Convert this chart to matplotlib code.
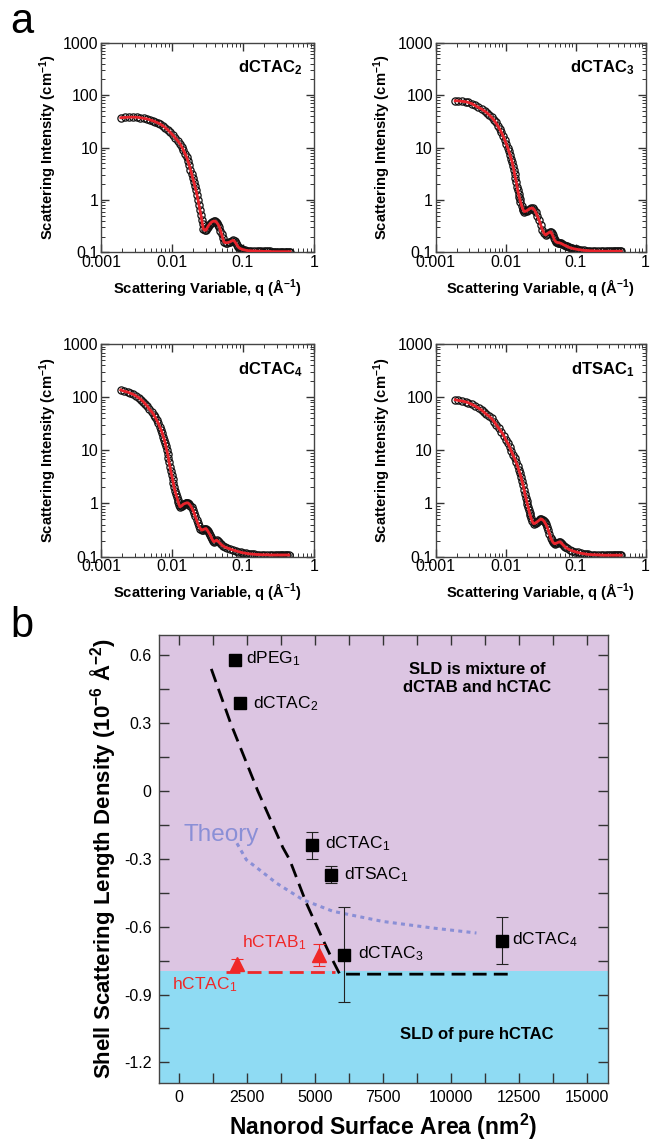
import numpy as np
import matplotlib
matplotlib.use('Agg')
import matplotlib.pyplot as plt
from matplotlib.ticker import LogLocator, NullFormatter, MultipleLocator, FixedLocator, FixedFormatter

plt.rcParams['font.family'] = ['Liberation Sans', 'DejaVu Sans']
plt.rcParams['mathtext.fontset'] = 'custom'
plt.rcParams['mathtext.rm'] = 'Liberation Sans'
plt.rcParams['mathtext.bf'] = 'Liberation Sans:bold'
plt.rcParams['mathtext.it'] = 'Liberation Sans:italic'
plt.rcParams['axes.unicode_minus'] = False

# ---------------- Panel a data (SANS curves) ----------------
q_dctac2 = [0.0019, 0.0022, 0.0025, 0.0028, 0.0032, 0.0036, 0.0040, 0.0045, 0.0049, 0.0054,
            0.0058, 0.0063, 0.0068, 0.0074, 0.0080, 0.0087, 0.0094, 0.0102, 0.0110, 0.0120,
            0.0130, 0.0138, 0.0145, 0.0153, 0.0161, 0.0168, 0.0175, 0.0182, 0.0189, 0.0196,
            0.0203, 0.0210, 0.0218, 0.0225, 0.0233, 0.0240, 0.0248, 0.0255, 0.0262, 0.0269,
            0.0276, 0.0288, 0.0301, 0.0310, 0.0320, 0.0331, 0.0343, 0.0356, 0.0370, 0.0386,
            0.0403, 0.0418, 0.0433, 0.0449, 0.0465, 0.0482, 0.0500, 0.0520, 0.0540, 0.0570,
            0.0600, 0.0628, 0.0656, 0.0690, 0.0730, 0.0760, 0.0790, 0.0825, 0.0860, 0.0895,
            0.0930, 0.097, 0.101, 0.108, 0.115, 0.122, 0.130, 0.142, 0.155, 0.167,
            0.18, 0.195, 0.21, 0.225, 0.24, 0.255, 0.27, 0.285, 0.30, 0.32,
            0.34, 0.36, 0.38, 0.40, 0.42, 0.44, 0.46]
I_dctac2 = [37, 37.5, 38, 38, 37.8, 37, 36, 35, 33.6, 32.3,
            31, 29.6, 28.2, 26, 24, 21.8, 19.6, 17.5, 15.5, 13.5,
            11.7, 10.2, 8.8, 7.6, 6.5, 5.5, 4.6, 3.8, 3.15, 2.6,
            2.2, 1.85, 1.52, 1.25, 1.0, 0.8, 0.63, 0.52, 0.42, 0.34,
            0.28, 0.265, 0.263, 0.285, 0.31, 0.33, 0.35, 0.37, 0.385, 0.393,
            0.395, 0.38, 0.36, 0.335, 0.304, 0.26, 0.22, 0.185, 0.157, 0.152,
            0.152, 0.155, 0.158, 0.165, 0.17, 0.162, 0.15, 0.136, 0.126, 0.12,
            0.117, 0.114, 0.112, 0.11, 0.108, 0.107, 0.107, 0.106, 0.106, 0.105,
            0.105, 0.104, 0.104, 0.104, 0.104, 0.103, 0.103, 0.103, 0.103, 0.103,
            0.103, 0.103, 0.103, 0.103, 0.103, 0.103, 0.103]

q_dctac3 = [0.0019, 0.0021, 0.0024, 0.0027, 0.0029, 0.0033, 0.0036, 0.0040, 0.00454, 0.0050,
            0.0054, 0.0058, 0.0063, 0.0068, 0.0072, 0.0077, 0.0082, 0.0087, 0.0092, 0.0097,
            0.0102, 0.0107, 0.0111, 0.0116, 0.0120, 0.0124, 0.0127, 0.0131, 0.0134, 0.0138,
            0.0142, 0.0146, 0.0149, 0.0153, 0.0156, 0.0160, 0.0163, 0.0169, 0.0175, 0.0180,
            0.0185, 0.0192, 0.0200, 0.0210, 0.0220, 0.0232, 0.0243, 0.0256, 0.0270, 0.0285,
            0.0301, 0.0318, 0.0335, 0.0354, 0.0374, 0.0392, 0.0410, 0.0425, 0.044, 0.0455,
            0.047, 0.0485, 0.050, 0.052, 0.054, 0.056, 0.0575, 0.060, 0.062, 0.065,
            0.068, 0.072, 0.0755, 0.080, 0.085, 0.090, 0.0945, 0.100, 0.1045, 0.112,
            0.12, 0.13, 0.14, 0.15, 0.161, 0.175, 0.19, 0.21, 0.23, 0.25,
            0.27, 0.29, 0.31, 0.33, 0.35, 0.37, 0.39, 0.41, 0.43, 0.45]
I_dctac3 = [78, 77.5, 76, 74.5, 72.6, 68.5, 64, 59, 54, 49.5,
            46, 42, 37.7, 33.5, 30, 26, 22.6, 19.4, 16.5, 14,
            11.7, 10, 8.5, 7.2, 6.1, 5.3, 4.5, 3.8, 3.16, 2.65,
            2.2, 1.8, 1.53, 1.3, 1.15, 1.02, 0.92, 0.78, 0.68, 0.63,
            0.60, 0.605, 0.62, 0.65, 0.68, 0.695, 0.70, 0.65, 0.58, 0.49,
            0.41, 0.33, 0.27, 0.23, 0.213, 0.225, 0.235, 0.243, 0.247, 0.23,
            0.21, 0.19, 0.171, 0.16, 0.155, 0.153, 0.153, 0.15, 0.148, 0.143,
            0.138, 0.134, 0.13, 0.125, 0.121, 0.119, 0.117, 0.115, 0.114, 0.112,
            0.111, 0.109, 0.108, 0.108, 0.107, 0.107, 0.106, 0.106, 0.105, 0.105,
            0.105, 0.105, 0.105, 0.105, 0.105, 0.105, 0.105, 0.105, 0.105, 0.105]

q_dctac4 = [0.0019, 0.0021, 0.0024, 0.0026, 0.00285, 0.0031, 0.0034, 0.0037, 0.00394, 0.0042,
            0.0045, 0.0048, 0.00517, 0.0055, 0.0058, 0.0061, 0.00642, 0.0067, 0.0070, 0.0073,
            0.00756, 0.0078, 0.0080, 0.0082, 0.00842, 0.0087, 0.0089, 0.0091, 0.00938, 0.0096,
            0.0099, 0.0102, 0.01045, 0.0107, 0.0110, 0.0113, 0.01164, 0.0120, 0.0123, 0.0126,
            0.01297, 0.0133, 0.0137, 0.0141, 0.01445, 0.0150, 0.0155, 0.0160, 0.01645, 0.0170,
            0.0176, 0.0182, 0.0189, 0.0197, 0.0205, 0.0213, 0.0222, 0.0231, 0.0240, 0.0251,
            0.0262, 0.0271, 0.0280, 0.0290, 0.0301, 0.0310, 0.0320, 0.0331, 0.0343, 0.0354,
            0.0365, 0.0378, 0.0391, 0.0408, 0.0426, 0.0443, 0.046, 0.049, 0.0528, 0.056,
            0.060, 0.066, 0.073, 0.079, 0.085, 0.093, 0.101, 0.110, 0.118, 0.125,
            0.135, 0.145, 0.156, 0.17, 0.185, 0.20, 0.22, 0.24, 0.26, 0.28,
            0.30, 0.32, 0.34, 0.36, 0.38, 0.40, 0.42, 0.44]
I_dctac4 = [138, 131, 125, 119, 114, 106, 98, 90, 82.8, 75,
            68, 60, 53.7, 47.5, 42, 37, 32.3, 28, 24.5, 21,
            18.1, 16, 14, 12, 10.1, 8.5, 7.2, 6, 4.9, 4.1,
            3.4, 2.85, 2.38, 2.05, 1.75, 1.52, 1.34, 1.18, 1.05, 0.94,
            0.865, 0.88, 0.90, 0.94, 0.97, 0.99, 1.01, 1.02, 1.03, 1.01,
            0.97, 0.91, 0.84, 0.75, 0.66, 0.57, 0.485, 0.42, 0.37, 0.335,
            0.314, 0.318, 0.325, 0.333, 0.337, 0.32, 0.30, 0.278, 0.257, 0.235,
            0.215, 0.198, 0.189, 0.198, 0.204, 0.195, 0.185, 0.17, 0.157, 0.15,
            0.145, 0.138, 0.132, 0.128, 0.124, 0.12, 0.117, 0.115, 0.113, 0.112,
            0.111, 0.11, 0.109, 0.109, 0.108, 0.108, 0.108, 0.107, 0.107, 0.107,
            0.107, 0.107, 0.107, 0.107, 0.107, 0.107, 0.107, 0.107]

q_dtsac1 = [0.0019, 0.0021, 0.0024, 0.0027, 0.00294, 0.0033, 0.0037, 0.0041, 0.00454, 0.0049,
            0.0053, 0.0058, 0.00628, 0.0068, 0.0074, 0.0080, 0.00869, 0.0094, 0.0100, 0.0107,
            0.01138, 0.0120, 0.0127, 0.0134, 0.0141, 0.0148, 0.0154, 0.0160, 0.01663, 0.0172,
            0.0178, 0.0184, 0.0189, 0.0195, 0.0200, 0.0205, 0.0211, 0.0215, 0.0220, 0.0225,
            0.0230, 0.0240, 0.0251, 0.0259, 0.0268, 0.0276, 0.0285, 0.0295, 0.0305, 0.0315,
            0.0325, 0.0337, 0.0350, 0.0362, 0.0374, 0.0390, 0.0405, 0.0422, 0.0440, 0.0455,
            0.0470, 0.0485, 0.050, 0.0525, 0.055, 0.0573, 0.0596, 0.062, 0.065, 0.068,
            0.0715, 0.076, 0.082, 0.090, 0.0989, 0.108, 0.120, 0.130, 0.140, 0.150,
            0.161, 0.175, 0.19, 0.21, 0.23, 0.25, 0.27, 0.29, 0.31, 0.33,
            0.35, 0.37, 0.39, 0.41, 0.43, 0.45]
I_dtsac1 = [90, 87.5, 85, 82, 79, 73.5, 68, 62.5, 57.5, 52.5,
            48, 44, 40, 35, 30, 26, 22.3, 19, 16, 13.7,
            11.6, 9.8, 8.3, 7.1, 6.0, 5.1, 4.3, 3.7, 3.12, 2.6,
            2.2, 1.82, 1.5, 1.28, 1.1, 0.96, 0.84, 0.74, 0.66, 0.6,
            0.54, 0.46, 0.417, 0.42, 0.43, 0.443, 0.455, 0.472, 0.49, 0.502,
            0.51, 0.495, 0.47, 0.44, 0.41, 0.365, 0.32, 0.27, 0.226, 0.205,
            0.19, 0.18, 0.174, 0.177, 0.182, 0.187, 0.19, 0.182, 0.17, 0.16,
            0.15, 0.142, 0.134, 0.128, 0.123, 0.119, 0.115, 0.113, 0.111, 0.11,
            0.109, 0.108, 0.108, 0.107, 0.107, 0.106, 0.106, 0.106, 0.106, 0.106,
            0.106, 0.106, 0.106, 0.106, 0.106, 0.106]

names_a = ['dCTAC$_\\mathbf{2}$', 'dCTAC$_\\mathbf{3}$', 'dCTAC$_\\mathbf{4}$', 'dTSAC$_\\mathbf{1}$']

# ---------------- Panel b data ----------------
sq_labels = ['dPEG$_1$', 'dCTAC$_2$', 'dCTAC$_1$', 'dTSAC$_1$', 'dCTAC$_3$', 'dCTAC$_4$']
sq_x = [2060, 2260, 4900, 5600, 6055, 11875]
sq_y = [0.578, 0.391, -0.240, -0.371, -0.724, -0.662]
sq_err = [0.0, 0.02, 0.06, 0.038, 0.21, 0.105]

tri_labels = ['hCTAC$_1$', 'hCTAB$_1$']
tri_x = [2130, 5147]
tri_y = [-0.765, -0.724]
tri_err = [0.02, 0.048]

fit_black_x = [1190, 1900, 2900, 3820, 4070, 4680, 5290, 5640, 5910, 12340]
fit_black_y = [0.54, 0.30, 0.0, -0.25, -0.304, -0.495, -0.657, -0.746, -0.81, -0.81]

fit_red_x = [1724, 5725]
fit_red_y = [-0.799, -0.799]

theory_x = [2132, 2478, 2967, 3581, 4559, 5662, 7500, 9338, 10934]
theory_y = [-0.231, -0.304, -0.349, -0.407, -0.481, -0.532, -0.577, -0.606, -0.628]

boundary_sld = -0.795

# ---------------- Figure ----------------
W, H = 651, 1141
fig = plt.figure(figsize=(W / 100, H / 100), dpi=100)

def frac(left, top, right, bottom):
    return [left / W, 1 - bottom / H, (right - left) / W, (bottom - top) / H]

axes_a = [fig.add_axes(frac(101, 42.7, 314, 252.3)),
          fig.add_axes(frac(435.7, 42.7, 645.5, 252.3)),
          fig.add_axes(frac(101, 344.3, 314, 556.5)),
          fig.add_axes(frac(435.7, 344.3, 645.5, 556.5))]

series = [(q_dctac2, I_dctac2), (q_dctac3, I_dctac3), (q_dctac4, I_dctac4), (q_dtsac1, I_dtsac1)]

for ax, (q, I), name in zip(axes_a, series, names_a):
    ax.set_xscale('log')
    ax.set_yscale('log')
    ax.plot(q, I, 'o', mfc='none', mec='#111111', mew=0.9, ms=5.2, zorder=2)
    ax.plot(q, I, '-', color='#e8232b', lw=2.0, zorder=3)
    ax.set_xlim(1e-3, 1)
    ax.set_ylim(0.1, 1000)
    ax.xaxis.set_major_locator(FixedLocator([1e-3, 1e-2, 1e-1, 1]))
    ax.xaxis.set_major_formatter(FixedFormatter(['0.001', '0.01', '0.1', '1']))
    ax.yaxis.set_major_locator(FixedLocator([0.1, 1, 10, 100, 1000]))
    ax.yaxis.set_major_formatter(FixedFormatter(['0.1', '1', '10', '100', '1000']))
    for axis in (ax.xaxis, ax.yaxis):
        axis.set_minor_locator(LogLocator(base=10, subs=np.arange(2, 10), numticks=20))
        axis.set_minor_formatter(NullFormatter())
    ax.tick_params(which='both', direction='in', top=True, right=True, colors='#333333')
    ax.tick_params(which='major', length=6, width=1.0, labelsize=11.5, pad=2, labelcolor='black')
    ax.tick_params(which='minor', length=3, width=0.7)
    for s in ax.spines.values():
        s.set_linewidth(1.0)
        s.set_color('#444444')
    ax.set_ylabel('Scattering Intensity (cm$^{\\mathbf{-1}}$)', fontweight='bold', fontsize=10.6, labelpad=3)
    ax.set_xlabel('Scattering Variable, q (Å$^{\\mathbf{-1}}$)', fontweight='bold', fontsize=10.6, labelpad=5)
    ax.text(0.948, 0.88, name, transform=ax.transAxes, ha='right', va='center',
            fontweight='bold', fontsize=12)

# Panel b
axb = fig.add_axes(frac(158.5, 635, 607.5, 1082.7))
xlim_b = (-750, 15750)
ylim_b = (-1.29, 0.69)
axb.set_xlim(*xlim_b)
axb.set_ylim(*ylim_b)
axb.axhspan(boundary_sld, ylim_b[1], color='#dcc5e2', zorder=0, lw=0)
axb.axhspan(ylim_b[0], boundary_sld, color='#8fdbf3', zorder=0, lw=0)

axb.plot(theory_x, theory_y, color='#8a8fd6', lw=2.2, linestyle=(0, (1.3, 1.4)), zorder=2)
axb.plot(fit_black_x, fit_black_y, color='black', lw=2.0, linestyle=(0, (5, 2.6)), zorder=3)
axb.plot(fit_red_x, fit_red_y, color='#f02828', lw=2.0, linestyle=(0, (5, 2.6)), zorder=3)

axb.errorbar(sq_x, sq_y, yerr=sq_err, fmt='s', color='black', ms=8.5, elinewidth=0.8,
             capsize=4, capthick=0.8, ecolor='#222222', zorder=4)
axb.errorbar(tri_x, tri_y, yerr=tri_err, fmt='^', color='#f02828', ms=9.5, elinewidth=0.8,
             capsize=4, capthick=0.8, ecolor='#f02828', zorder=4)

sq_lab_x = [2478, 2721, 5357, 6055, 6581, 12257]
sq_lab_y = [0.587, 0.387, -0.234, -0.371, -0.719, -0.657]
for lab, lx, ly in zip(sq_labels, sq_lab_x, sq_lab_y):
    axb.text(lx, ly, lab, fontsize=12.5, ha='left', va='center', color='black', zorder=5)

tri_lab_x = [-243, 2330]
tri_lab_y = [-0.856, -0.672]
for lab, lx, ly in zip(tri_labels, tri_lab_x, tri_lab_y):
    axb.text(lx, ly, lab, fontsize=12.5, ha='left', va='center', color='#f02828', zorder=5)

axb.text(1558, -0.194, 'Theory', fontsize=17.5, color='#8a8fd6', ha='center', va='center', zorder=5)
axb.text(10970, 0.497, 'SLD is mixture of\ndCTAB and hCTAC', fontsize=12, fontweight='bold',
         ha='center', va='center', linespacing=1.2, zorder=5)
axb.text(10934, -1.076, 'SLD of pure hCTAC', fontsize=12, fontweight='bold',
         ha='center', va='center', zorder=5)

axb.xaxis.set_major_locator(MultipleLocator(2500))
axb.xaxis.set_minor_locator(MultipleLocator(1250))
axb.yaxis.set_major_locator(FixedLocator([-1.2, -0.9, -0.6, -0.3, 0.0, 0.3, 0.6]))
axb.yaxis.set_major_formatter(FixedFormatter(['-1.2', '-0.9', '-0.6', '-0.3', '0', '0.3', '0.6']))
axb.yaxis.set_minor_locator(FixedLocator([-1.05, -0.75, -0.45, -0.15, 0.15, 0.45]))
axb.tick_params(which='both', direction='in', top=True, right=True, colors='#333333')
axb.tick_params(which='major', length=7, width=1.0, labelsize=11.5, pad=5, labelcolor='black')
axb.tick_params(which='minor', length=7, width=1.0)
for s in axb.spines.values():
    s.set_linewidth(1.0)
    s.set_color('#444444')
axb.set_xlabel('Nanorod Surface Area (nm$^{\\mathbf{2}}$)', fontweight='bold', fontsize=16.5, labelpad=5)
axb.set_ylabel('Shell Scattering Length Density (10$^{\\mathbf{-6}}$ Å$^{\\mathbf{-2}}$)',
               fontweight='bold', fontsize=16, labelpad=4)

fig.text(10 / W, 1 - 22 / H, 'a', fontsize=30, ha='left', va='center')
fig.text(10 / W, 1 - 626 / H, 'b', fontsize=30, ha='left', va='center')

fig.savefig('out.png', dpi=100)
